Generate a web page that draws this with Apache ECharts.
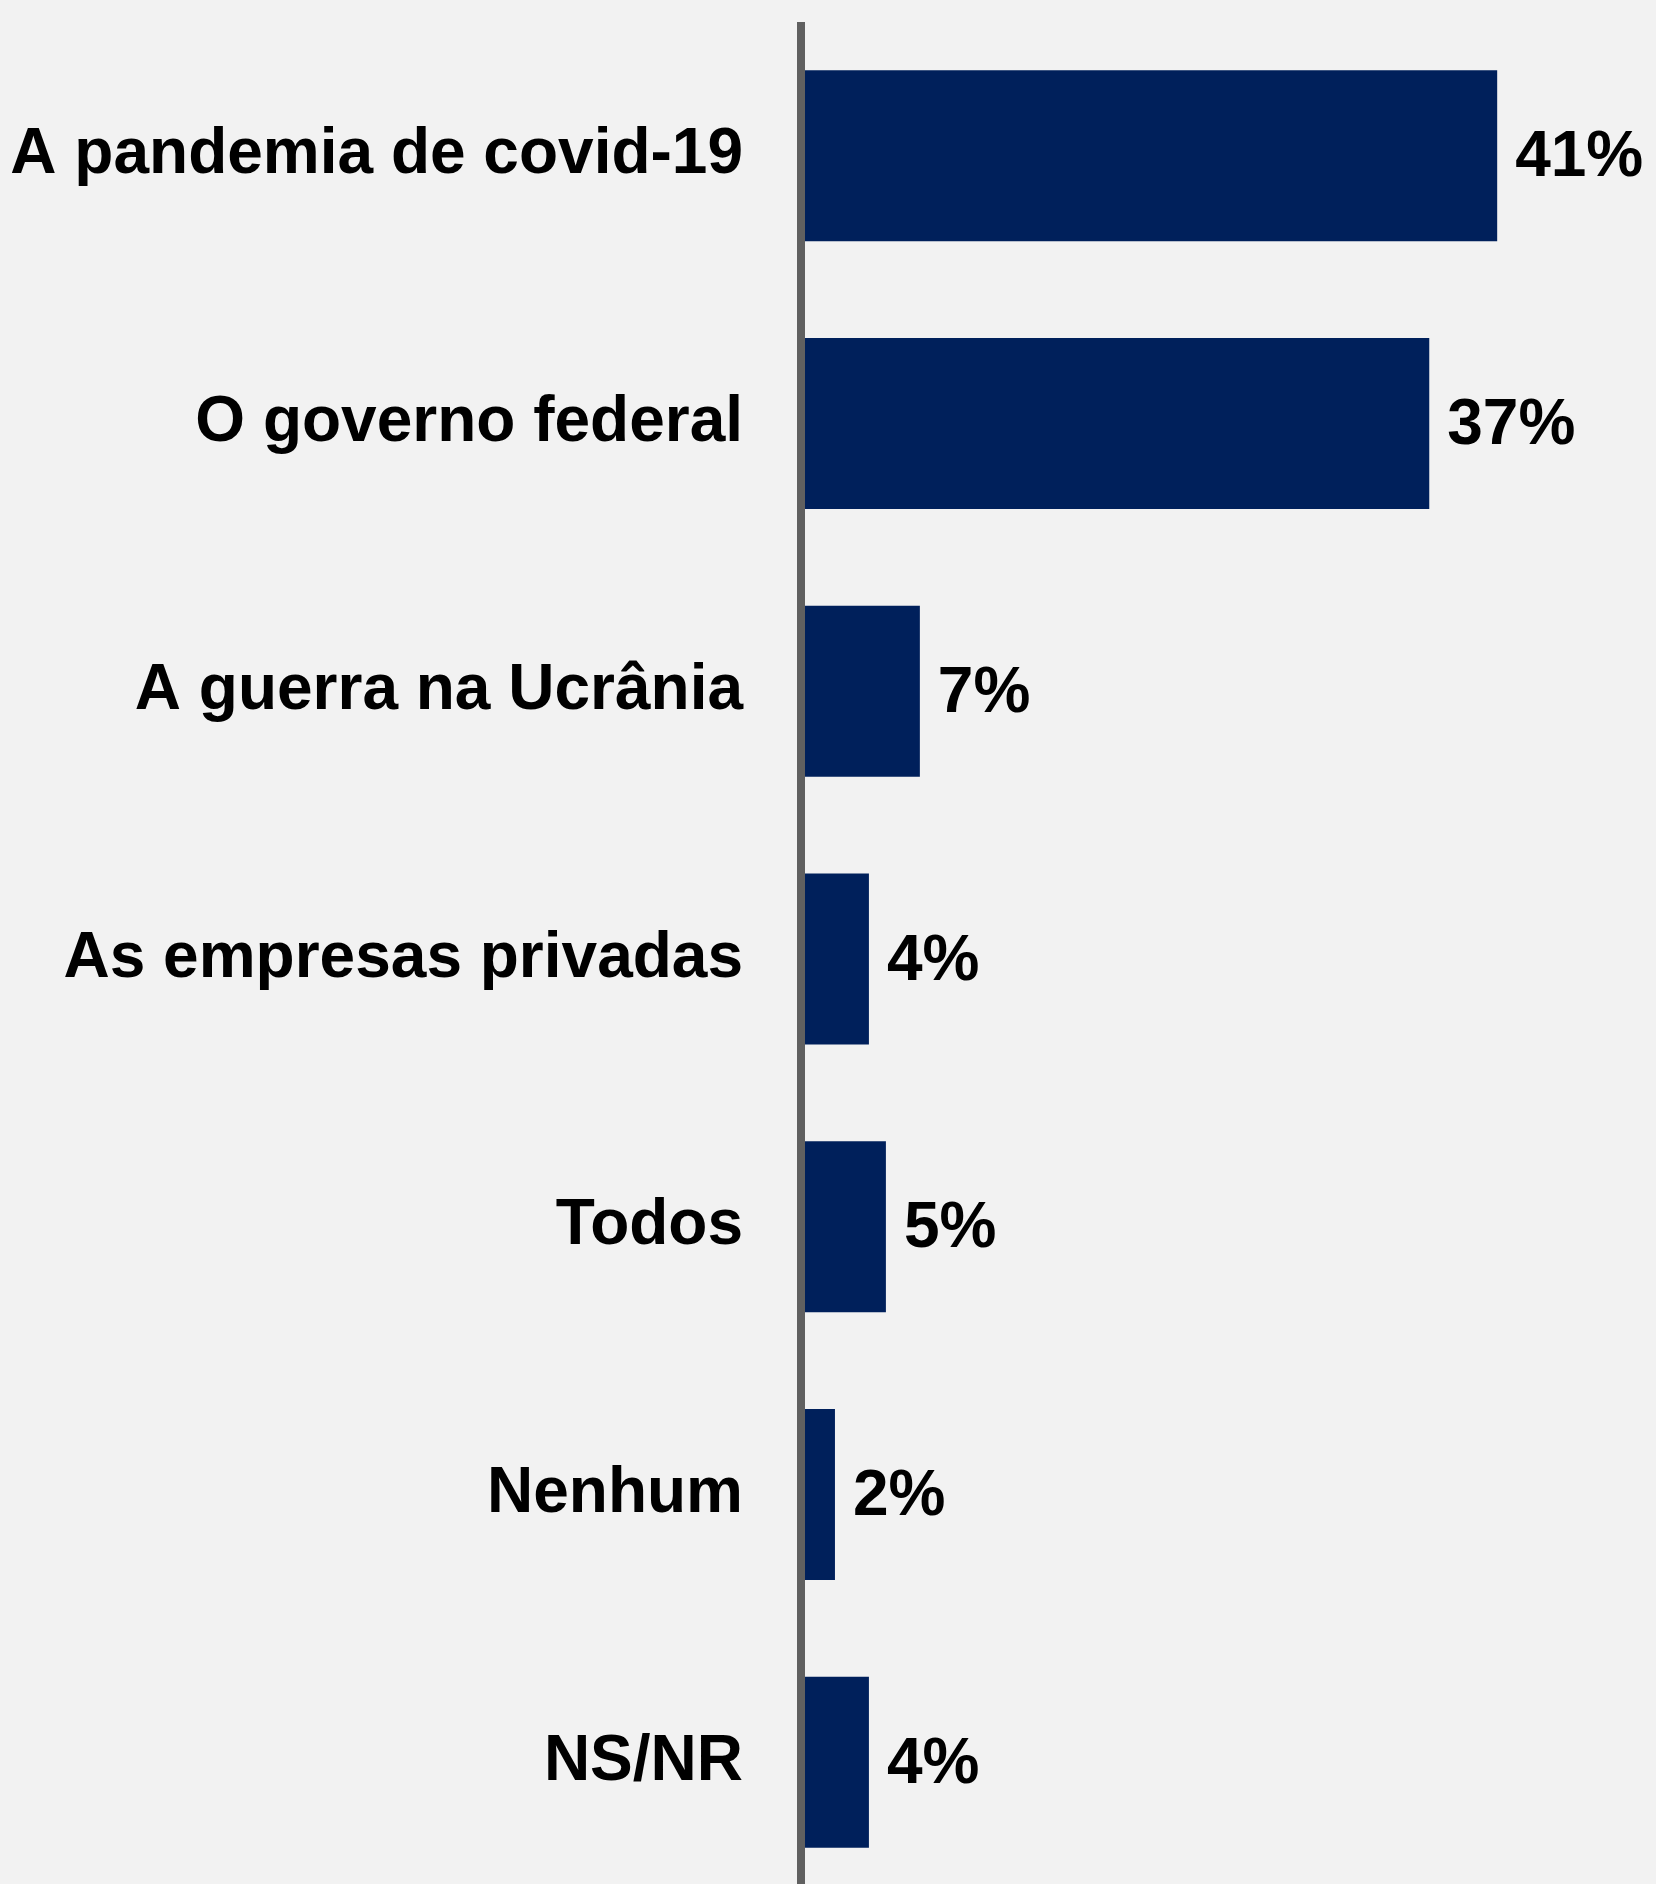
<!DOCTYPE html>
<html>
<head>
<meta charset="utf-8">
<script src="https://cdn.jsdelivr.net/npm/echarts@6/dist/echarts.min.js"></script>
<style>
html,body{margin:0;padding:0;background:#f2f2f2;overflow:hidden;}
#chart{width:1656px;height:1900px;}
</style>
</head>
<body>
<div id="chart"></div>
<script>
const categories = ["A pandemia de covid-19", "O governo federal", "A guerra na Ucrânia", "As empresas privadas", "Todos", "Nenhum", "NS/NR"];
const values = [41, 37, 7, 4, 5, 2, 4];

const chart = echarts.init(document.getElementById('chart'));
chart.setOption({
  backgroundColor: '#f2f2f2',
  animation: false,
  grid: { left: 801, width: 849, top: 22, height: 1874, containLabel: false },
  xAxis: { type: 'value', min: 0, max: 50, show: false },
  yAxis: {
    type: 'category',
    data: categories,
    inverse: true,
    z: 10,
    axisLine: { show: true, lineStyle: { color: '#606060', width: 8, cap: 'butt' } },
    axisTick: { show: false },
    axisLabel: {
      margin: 58,
      padding: [10, 0, 0, 0],
      color: '#000',
      fontFamily: '"Liberation Sans", Arial, sans-serif',
      fontWeight: 'bold',
      fontSize: 64
    },
    splitLine: { show: false }
  },
  series: [{
    type: 'bar',
    data: values,
    barWidth: 171,
    itemStyle: { color: '#00205B' },
    label: {
      show: true,
      position: 'right',
      distance: 18,
      offset: [0, 3],
      formatter: p => p.value + '%',
      color: '#000',
      fontFamily: '"Liberation Sans", Arial, sans-serif',
      fontWeight: 'bold',
      fontSize: 64
    }
  }]
});
</script>
</body>
</html>
